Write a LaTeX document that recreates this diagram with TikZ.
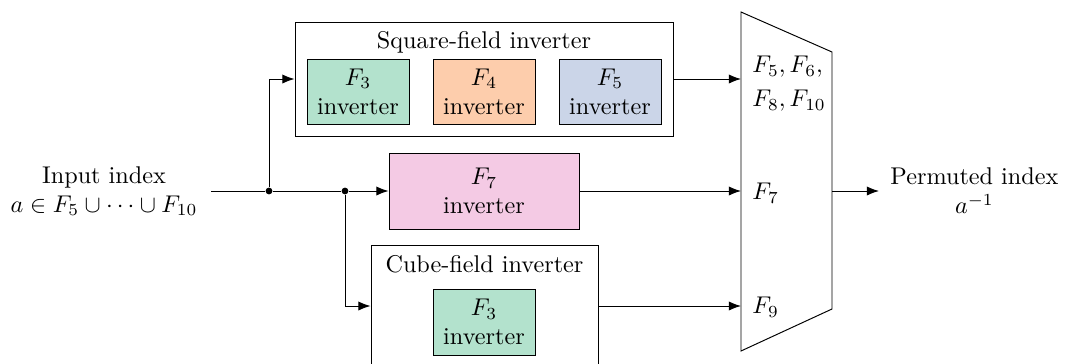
\documentclass[tikz,border=0pt]{standalone}
\usetikzlibrary{arrows.meta}
\definecolor{cgreen}{HTML}{B3E2CD}
\definecolor{corange}{HTML}{FDCDAC}
\definecolor{cblue}{HTML}{CBD5E8}
\definecolor{cpink}{HTML}{F4CAE4}
\newcommand{\pu}{0.413pt}
\begin{document}
\begin{tikzpicture}[x=0.413pt,y=-0.413pt,
  box/.style={draw, line width=0.4pt, inner sep=0pt, align=center},
  inv/.style={box, minimum width=102*\pu, minimum height=65*\pu},
  arr/.style={-{Latex[length=5pt,width=3.8pt]}, line width=0.4pt},
  dot/.style={circle, fill, inner sep=0pt, minimum size=2.8pt},
  lbl/.style={align=center, inner sep=0pt}]
\useasboundingbox (0,0) rectangle (1065,363);

% square-field inverter
\node[box, minimum width=378*\pu, minimum height=114*\pu] (sq) at (484,79) {};
\node[lbl] (sqt) at (484,42) {Square-field inverter};
\node[inv, fill=cgreen] (sq3) at (358,91.5) {$F_3$\\inverter};
\node[inv, fill=corange] (sq4) at (484,91.5) {$F_4$\\inverter};
\node[inv, fill=cblue] (sq5) at (610,91.5) {$F_5$\\inverter};

% F7 inverter
\node[box, fill=cpink, minimum width=190*\pu, minimum height=76*\pu] (f7) at (484,191) {$F_7$\\inverter};

% cube-field inverter
\node[box, minimum width=227*\pu, minimum height=127*\pu] (cu) at (484.5,308.5) {};
\node[lbl] (cut) at (484.5,264) {Cube-field inverter};
\node[inv, fill=cgreen, minimum height=66*\pu] (cu3) at (484,322) {$F_3$\\inverter};

% multiplexer
\coordinate (mtl) at (741,12);
\coordinate (mtr) at (832,52);
\coordinate (mbr) at (832,309);
\coordinate (mbl) at (741,351);
\draw[line width=0.4pt] (mtl) -- (mtr) -- (mbr) -- (mbl) -- cycle;
\coordinate (m1) at (741,79);
\coordinate (m2) at (741,191);
\coordinate (m3) at (741,306);
\coordinate (mo) at (832,191);
\node[lbl, anchor=west, align=left] (l1) at (752,84) {$F_5,F_6,$\\[2pt]$F_8,F_{10}$};
\node[lbl, anchor=west] (l2) at (752,193) {$F_7$};
\node[lbl, anchor=west] (l3) at (752,307) {$F_9$};

% input / output labels
\node[lbl] (in) at (104,191) {Input index\\$a\in F_5\cup\cdots\cup F_{10}$};
\node[lbl, anchor=west] (out) at (890,191) {Permuted index\\$a^{-1}$};
\coordinate (oe) at (879,191);

% junctions
\coordinate (ins) at (211,191);
\node[dot] (d1) at (269,191) {};
\node[dot] (d2) at (345,191) {};

% connectors
\draw[line width=0.4pt] (ins) -- (d1) -- (d2);
\draw[arr] (d2) -- (f7.west);
\draw[arr] (d1) |- (sq.west);
\draw[arr] (d2) |- (cu.west |- m3);
\draw[arr] (sq.east) -- (m1);
\draw[arr] (f7.east) -- (m2);
\draw[arr] (cu.east |- m3) -- (m3);
\draw[arr] (mo) -- (oe);
\end{tikzpicture}
\end{document}
